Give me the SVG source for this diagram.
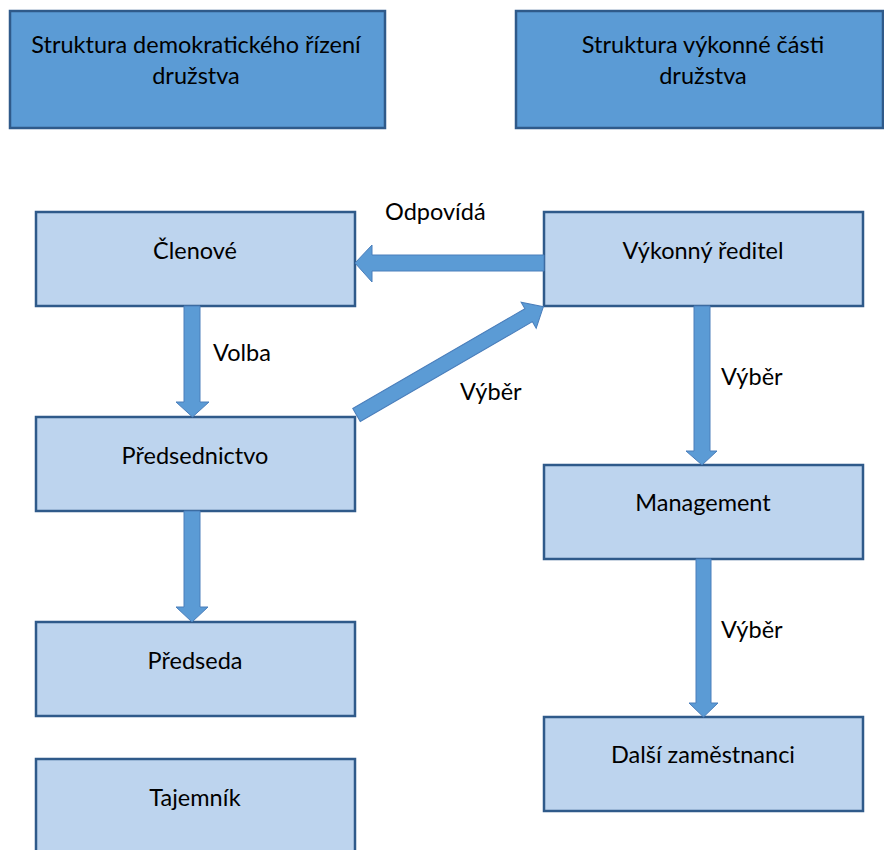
<svg xmlns="http://www.w3.org/2000/svg" width="884" height="850" viewBox="0 0 884 850">
  <style>
    .hdr { fill: #5B9BD5; stroke: #2F5A8A; stroke-width: 2.5; }
    .box { fill: #BDD4EE; stroke: #2F5A8A; stroke-width: 2.5; }
    .arr { fill: #5B9BD5; stroke: #4A7EBB; stroke-width: 1; }
    text { font-family: Lato, "Liberation Sans", sans-serif; font-size: 23.5px; fill: #000; text-anchor: middle; }
    .lbl { text-anchor: start; }
  </style>
  <rect width="884" height="850" fill="#fff"/>
  <g id="hdr-demo">
    <rect class="hdr" x="10" y="11" width="375" height="117"/>
    <text x="196" y="53">Struktura demokratického řízení</text>
    <text x="196" y="84">družstva</text>
  </g>
  <g id="hdr-exec">
    <rect class="hdr" x="516" y="11" width="367" height="117"/>
    <text x="703" y="53">Struktura výkonné části</text>
    <text x="703" y="84">družstva</text>
  </g>
  <g id="clenove">
    <rect class="box" x="36" y="212" width="319" height="94"/>
    <text x="195" y="259">Členové</text>
  </g>
  <g id="vykonny">
    <rect class="box" x="544" y="212" width="319" height="94"/>
    <text x="703" y="259">Výkonný ředitel</text>
  </g>
  <g id="predsednictvo">
    <rect class="box" x="36" y="417" width="319" height="94"/>
    <text x="195" y="464">Předsednictvo</text>
  </g>
  <g id="management">
    <rect class="box" x="544" y="465" width="319" height="94"/>
    <text x="703" y="511">Management</text>
  </g>
  <g id="predseda">
    <rect class="box" x="36" y="622" width="319" height="94"/>
    <text x="195" y="669">Předseda</text>
  </g>
  <g id="dalsi">
    <rect class="box" x="544" y="717" width="319" height="94"/>
    <text x="703" y="763">Další zaměstnanci</text>
  </g>
  <g id="tajemnik">
    <rect class="box" x="36" y="759" width="319" height="100"/>
    <text x="195" y="806">Tajemník</text>
  </g>
  <g id="connectors">
    <polygon class="arr" points="355,263 372,245 372,255 544,255 544,271 372,271 372,282"/>
    <polygon class="arr" points="184,306 200,306 200,402 209,402 192.5,417 176,402 184,402"/>
    <polygon class="arr" points="184,511 200,511 200,607 208,607 192,622 176,607 184,607"/>
    <polygon class="arr" points="694,306 710,306 710,451 717,451 702,465 686,451 694,451"/>
    <polygon class="arr" points="696,559 711,559 711,703 718,703 703.5,717 689,703 696,703"/>
    <polygon class="arr" transform="translate(356.5,415) rotate(-30.1)" points="0,-7.5 199,-7.5 199,-15 216,0 199,15 199,7.5 0,7.5"/>
    <text class="lbl" x="385" y="220">Odpovídá</text>
    <text class="lbl" x="213" y="361">Volba</text>
    <text class="lbl" x="460" y="400">Výběr</text>
    <text class="lbl" x="721" y="385">Výběr</text>
    <text class="lbl" x="721" y="638">Výběr</text>
  </g>
</svg>
